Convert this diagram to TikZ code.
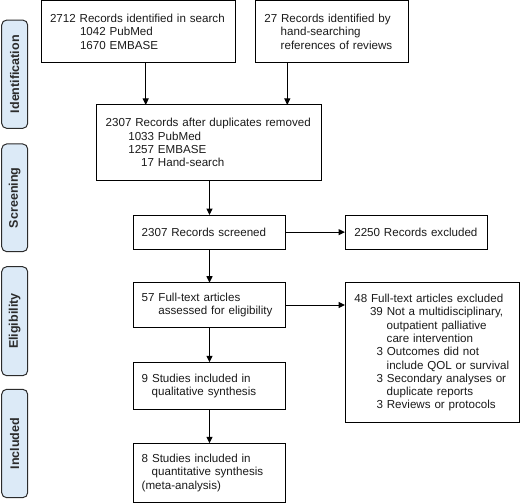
\documentclass[tikz,border=0pt]{standalone}
\usepackage{fontspec}
\setmainfont{Liberation Sans}
\usetikzlibrary{arrows.meta}
\definecolor{lblfill}{HTML}{DCEAF7}
\definecolor{lbldraw}{HTML}{2B2B2B}
\definecolor{txt}{HTML}{1A1A1A}
\begin{document}
\begin{tikzpicture}[x=1pt,y=-1pt,
  box/.style={draw=black, line width=1pt, rectangle, anchor=north west, align=left,
    inner ysep=0pt, outer sep=0pt, font=\fontsize{11.6}{13.3}\selectfont, text=txt},
  phase/.style={draw=lbldraw, fill=lblfill, rounded corners=5pt, line width=1pt,
    rotate=90, minimum height=26pt, inner sep=0pt, outer sep=0pt,
    font=\fontsize{12.5}{14}\selectfont\bfseries, text=lbldraw},
  arr/.style={line width=1pt, draw=black, -{Triangle[length=6.5pt,width=6pt]}}]
\useasboundingbox (0,0) rectangle (520,503);

% phase labels
\node[phase, minimum width=108.3pt] (pid) at (14.7,74.2) {Identification};
\node[phase, minimum width=107.7pt] (psc) at (14.7,197.8) {Screening};
\node[phase, minimum width=109pt]   (pel) at (14.7,321.2) {Eligibility};
\node[phase, minimum width=108.4pt] (pin) at (14.7,443.5) {Included};

% boxes
\node[box, inner xsep=8.3pt, text width=176.7pt, minimum width=193.3pt, minimum height=61.7pt] (A) at (41.7,1)
  {2712 Records identified in search\\\hspace*{30pt}1042 PubMed\\\hspace*{30pt}1670 EMBASE};
\node[box, inner xsep=9.3pt, text width=134.7pt, minimum width=153.3pt, minimum height=61.7pt] (B) at (255,1)
  {27 Records identified by\\\hspace*{16.4pt}hand-searching\\\hspace*{16.4pt}references of reviews};
\node[box, inner xsep=9pt, text width=207pt, minimum width=225pt, minimum height=75.3pt] (C) at (96.7,105)
  {2307 Records after duplicates removed\\\hspace*{22.6pt}1033 PubMed\\\hspace*{22.6pt}1257 EMBASE\\\hspace*{35.5pt}17 Hand-search};
\node[box, inner xsep=8.4pt, text width=135.6pt, minimum width=152.4pt, minimum height=34.3pt] (D) at (133.3,215)
  {2307 Records screened};
\node[box, inner xsep=9.3pt, text width=124.1pt, minimum width=142.7pt, minimum height=34.3pt] (E) at (345,215)
  {2250 Records excluded};
\node[box, inner xsep=8.4pt, text width=135.6pt, minimum width=152.4pt, minimum height=44.6pt] (F) at (133.3,282.7)
  {57 Full-text articles\\\hspace*{16.6pt}assessed for eligibility};
\node[box, inner xsep=8.4pt, text width=135.6pt, minimum width=152.4pt, minimum height=47pt] (G) at (133.3,362.3)
  {9 Studies included in\\\hspace*{10pt}qualitative synthesis};
\node[box, inner xsep=8.4pt, text width=135.6pt, minimum width=152.4pt, minimum height=59pt] (H) at (133.3,443.3)
  {8 Studies included in\\\hspace*{10pt}quantitative synthesis\\(meta-analysis)};
\node[box, inner xsep=9.3pt, text width=155.7pt, minimum width=174.3pt, minimum height=140pt] (I) at (345,282.7)
  {48 Full-text articles excluded\\
   \hspace*{15.7pt}39 Not a multidisciplinary,\\
   \hspace*{32.4pt}outpatient palliative\\
   \hspace*{32.4pt}care intervention\\
   \hspace*{22.2pt}3 Outcomes did not\\
   \hspace*{32.4pt}include QOL or survival\\
   \hspace*{22.2pt}3 Secondary analyses or\\
   \hspace*{32.4pt}duplicate reports\\
   \hspace*{22.2pt}3 Reviews or protocols};

% connectors
\coordinate (xa) at (145.7,0);
\coordinate (xb) at (287.3,0);
\draw[arr] (A.south -| xa) -- (C.north -| xa);
\draw[arr] (B.south -| xb) -- (C.north -| xb);
\draw[arr] (C.south -| D.north) -- (D.north);
\draw[arr] (D.east) -- (E.west |- D.east);
\draw[arr] (D.south) -- (F.north);
\draw[arr] (F.east) -- (I.west |- F.east);
\draw[arr] (F.south) -- (G.north);
\draw[arr] (G.south) -- (H.north);
\end{tikzpicture}
\end{document}
